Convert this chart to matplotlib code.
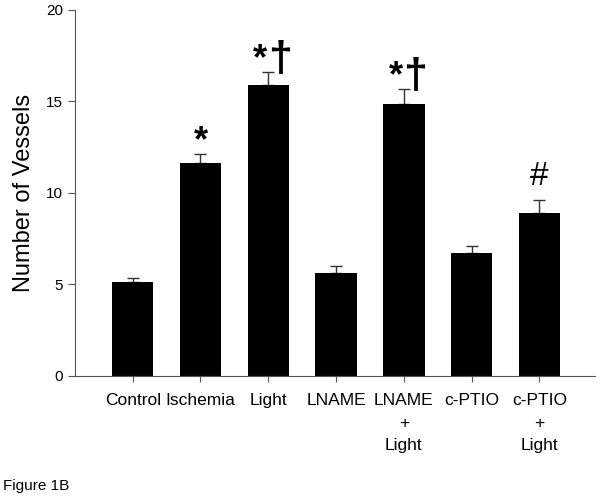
import numpy as np
import matplotlib
matplotlib.use("Agg")
import matplotlib.pyplot as plt

plt.rcParams['font.family'] = ['Liberation Sans', 'DejaVu Sans']

groups = ["Control", "Ischemia", "Light", "LNAME", "LNAME\n+\nLight", "c-PTIO", "c-PTIO\n+\nLight"]
means = [5.15, 11.66, 15.90, 5.61, 14.88, 6.70, 8.92]
errs = [0.22, 0.47, 0.70, 0.40, 0.79, 0.40, 0.70]
stars = [False, True, True, False, True, False, False]
daggers = [False, False, True, False, True, False, False]
hashes = [False, False, False, False, False, False, True]

fig = plt.figure(figsize=(6.02, 4.99), dpi=100)
ax = fig.add_axes([0.1246, 0.2465, 0.8638, 0.7335])

x = np.arange(len(groups))
ax.bar(x, means, width=0.61, color="black", zorder=2)
ax.errorbar(x, means, yerr=[np.zeros(len(errs)), errs], fmt="none",
            ecolor="#333333", elinewidth=1, capsize=4, capthick=1, zorder=1)

for xi, m, e, s, d, h in zip(x, means, errs, stars, daggers, hashes):
    top = m + e
    if s and d:
        ax.text(xi - 0.12, top + 0.15, "*", ha="center", va="baseline",
                fontsize=26, fontweight="bold")
        ax.text(xi + 0.17, top + 0.08, "\u2020", ha="center", va="baseline",
                fontsize=31, fontweight="bold")
    elif s:
        ax.text(xi, top + 0.15, "*", ha="center", va="baseline",
                fontsize=26, fontweight="bold")
    if h:
        ax.text(xi, top + 0.8, "#", ha="center", va="baseline", fontsize=24)

ax.set_xlim(-0.851, 6.82)
ax.set_ylim(0, 20)
ax.set_yticks([0, 5, 10, 15, 20])
ax.set_xticks(x)
ax.set_xticklabels(groups, fontsize=12.5, linespacing=1.6, va="top")
ax.tick_params(axis="y", labelsize=11, direction="out", length=5, color="#555555")
ax.tick_params(axis="x", direction="out", length=4.5, color="#555555", pad=8)
for side in ["top", "right"]:
    ax.spines[side].set_visible(False)
for side in ["left", "bottom"]:
    ax.spines[side].set_color("#555555")
ax.set_ylabel("Number of Vessels", fontsize=17, labelpad=8)

fig.text(0.005, 0.018, "Figure 1B", fontsize=11, ha="left", va="baseline")

fig.savefig("out.png", dpi=100)
